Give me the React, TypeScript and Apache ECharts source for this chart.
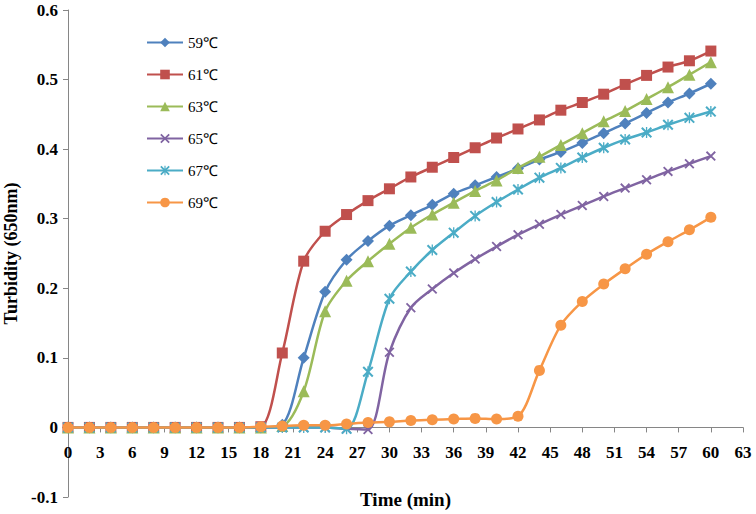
import React, { useEffect, useRef } from "react";
import * as echarts from "echarts";

const times = [0, 2, 4, 6, 8, 10, 12, 14, 16, 18, 20, 22, 24, 26, 28, 30, 32, 34, 36, 38, 40, 42, 44, 46, 48, 50, 52, 54, 56, 58, 60];

const s59 = [0, 0, 0, 0, 0, 0, 0, 0, 0, 0, 0.004, 0.1, 0.195, 0.241, 0.268, 0.29, 0.305, 0.32, 0.336, 0.348, 0.36, 0.372, 0.385, 0.396, 0.409, 0.423, 0.437, 0.452, 0.467, 0.48, 0.494];
const s61 = [0, 0, 0, 0, 0, 0, 0, 0, 0, 0.001, 0.107, 0.239, 0.282, 0.306, 0.326, 0.343, 0.36, 0.374, 0.388, 0.402, 0.416, 0.429, 0.442, 0.456, 0.467, 0.479, 0.493, 0.506, 0.518, 0.527, 0.541];
const s63 = [0, 0, 0, 0, 0, 0, 0, 0, 0, 0, 0.002, 0.052, 0.167, 0.211, 0.239, 0.264, 0.287, 0.306, 0.323, 0.34, 0.355, 0.373, 0.389, 0.406, 0.423, 0.44, 0.455, 0.472, 0.489, 0.507, 0.525];
const s65 = [0, 0, 0, 0, 0, 0, 0, 0, 0, 0, 0, 0, 0, -0.002, -0.003, 0.108, 0.172, 0.199, 0.222, 0.242, 0.26, 0.277, 0.292, 0.306, 0.319, 0.332, 0.344, 0.356, 0.368, 0.379, 0.39];
const s67 = [0, 0, 0, 0, 0, 0, 0, 0, 0, 0, 0, 0, 0, -0.002, 0.08, 0.185, 0.224, 0.255, 0.28, 0.304, 0.324, 0.342, 0.359, 0.373, 0.388, 0.402, 0.414, 0.424, 0.435, 0.445, 0.454];
const s69 = [0, 0, 0, 0, 0, 0, 0, 0, 0, 0.001, 0.002, 0.003, 0.003, 0.005, 0.007, 0.008, 0.01, 0.011, 0.012, 0.013, 0.012, 0.016, 0.082, 0.147, 0.181, 0.206, 0.228, 0.249, 0.267, 0.284, 0.302];

const seriesNames = ["59℃", "61℃", "63℃", "65℃", "67℃", "69℃"];
const seriesValues = [s59, s61, s63, s65, s67, s69];
const colors = ["#4F81BD", "#C0504D", "#9BBB59", "#8064A2", "#4BACC6", "#F79646"];

const xPath = "path://M0,1.3L1.3,0L10,8.7L8.7,10Z M8.7,0L10,1.3L1.3,10L0,8.7Z";
const starPath = "path://M0,1.3L1.3,0L10,8.7L8.7,10Z M8.7,0L10,1.3L1.3,10L0,8.7Z M4.4,0L5.6,0L5.6,10L4.4,10Z";
const symbols = ["diamond", "rect", "triangle", xPath, starPath, "circle"];
const symbolSizes = [12, 11, 12, 10, 11, 11];

const xTicks = { min: 0, max: 63, interval: 3 };
const yTicks = { min: -0.1, max: 0.6, interval: 0.1 };

const FONT = "'Liberation Serif', 'Times New Roman', serif";

const GRID = { left: 68, right: 13, top: 10, bottom: 17 };
const PLOT_H = 514 - GRID.top - GRID.bottom;
// distance from the bottom of the plot up to the value 0 line
const ZERO_OFFSET = ((0 - yTicks.min) / (yTicks.max - yTicks.min)) * PLOT_H;

export default function App() {
  const ref = useRef<HTMLDivElement>(null);
  useEffect(() => {
    if (!ref.current) return;
    const chart = echarts.init(ref.current, null, { renderer: "svg" });
    chart.setOption({
      animation: false,
      backgroundColor: "#ffffff",
      grid: { ...GRID, containLabel: false, outerBoundsMode: "none" },
      legend: {
        orient: "vertical",
        left: 141,
        top: 30,
        itemWidth: 36,
        itemHeight: 12,
        itemGap: 17,
        textStyle: { fontFamily: FONT, fontSize: 15, color: "#000" },
        data: seriesNames,
      },
      xAxis: {
        type: "value",
        position: "bottom",
        offset: -ZERO_OFFSET,
        min: xTicks.min,
        max: xTicks.max,
        interval: xTicks.interval,
        name: "Time (min)",
        nameLocation: "middle",
        nameGap: 63,
        nameTextStyle: { fontFamily: FONT, fontSize: 19, fontWeight: "bold", color: "#000" },
        axisLine: { onZero: false, lineStyle: { color: "#868686", width: 1 } },
        axisTick: { show: true, length: 5, lineStyle: { color: "#868686" } },
        axisLabel: { fontFamily: FONT, fontSize: 17, fontWeight: "bold", color: "#000", margin: 17 },
        splitLine: { show: false },
      },
      yAxis: {
        type: "value",
        min: yTicks.min,
        max: yTicks.max,
        interval: yTicks.interval,
        name: "Turbidity (650nm)",
        nameLocation: "middle",
        nameGap: 48,
        nameRotate: 90,
        nameTextStyle: { fontFamily: FONT, fontSize: 18, fontWeight: "bold", color: "#000" },
        axisLine: { show: true, onZero: false, lineStyle: { color: "#868686", width: 1 } },
        axisTick: { show: true, length: 5, lineStyle: { color: "#868686" } },
        axisLabel: { fontFamily: FONT, fontSize: 17, fontWeight: "bold", color: "#000", margin: 10 },
        splitLine: { show: false },
      },
      series: seriesNames.map((name, i) => ({
        name,
        type: "line",
        data: times.map((t, j) => [t, seriesValues[i][j]]),
        smooth: 0.3,
        symbol: symbols[i],
        symbolSize: symbolSizes[i],
        showAllSymbol: true,
        lineStyle: { color: colors[i], width: 2.5 },
        itemStyle: { color: colors[i] },
        z: 2 + i,
      })),
    });
    return () => chart.dispose();
  }, []);
  return <div ref={ref} style={{ width: 756, height: 514, position: "absolute", left: 0, top: 0 }} />;
}
